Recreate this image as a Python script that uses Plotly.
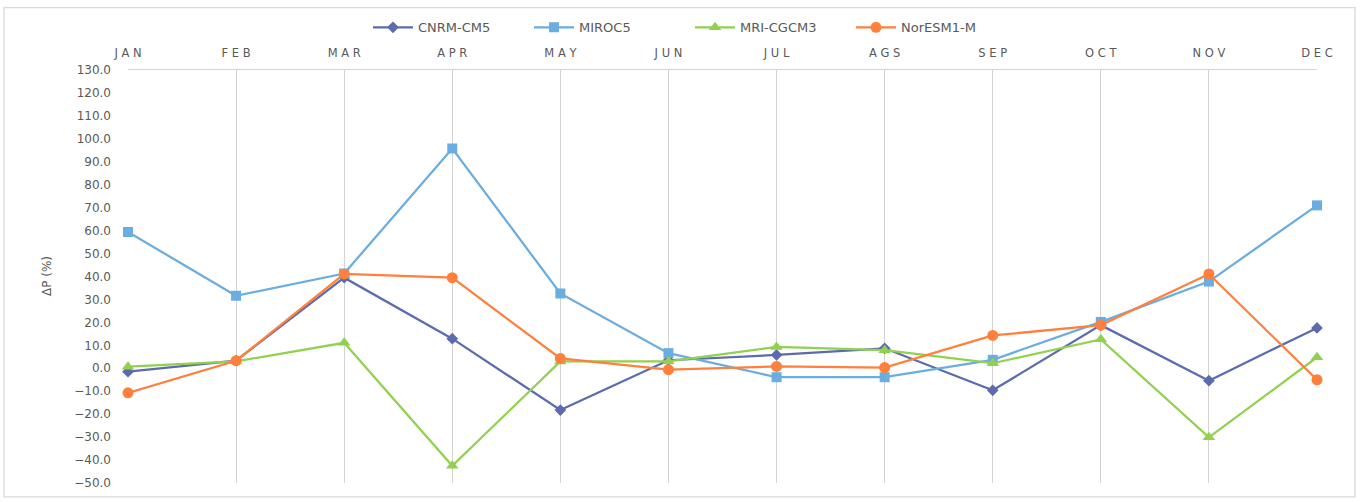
import plotly.graph_objects as go

months = ["JAN", "FEB", "MAR", "APR", "MAY", "JUN", "JUL", "AGS", "SEP", "OCT", "NOV", "DEC"]
cnrm = [-1.5, 3.3, 39.5, 12.9, -18.2, 3.5, 5.8, 8.7, -9.6, 18.8, -5.4, 17.6]
miroc = [59.4, 31.6, 41.3, 95.8, 32.6, 6.6, -3.9, -3.9, 3.7, 20.2, 37.8, 71.0]
mri = [0.7, 3.0, 11.1, -42.5, 3.0, 3.0, 9.3, 7.9, 2.2, 12.6, -30.1, 4.8]
noresm = [-10.7, 3.3, 41.1, 39.5, 4.3, -0.6, 0.8, 0.3, 14.3, 18.8, 41.1, -5.0]

series = [
    ("CNRM-CM5", cnrm, "#5B6BAD", "diamond", 9),
    ("MIROC5", miroc, "#6AADE0", "square", 10),
    ("MRI-CGCM3", mri, "#92D050", "triangle-up", 11),
    ("NorESM1-M", noresm, "#FF7F3C", "circle", 11),
]

FONT = "DejaVu Sans, sans-serif"
GRAY = "#595959"

fig = go.Figure()
for name, vals, color, sym, sz in series:
    fig.add_trace(go.Scatter(
        x=months, y=vals, name=name, mode="lines+markers",
        line=dict(color=color, width=2.25),
        marker=dict(symbol=sym, size=sz, color=color),
        cliponaxis=False,
    ))

ticktext = [" ".join(list(m)) for m in months]

W, H = 1360, 502
L, R, T, B = 128, 43, 68, 17
pw, ph = W - L - R, H - T - B

def px(xp):
    return (xp - L) / pw

def py(yp):
    return (H - B - yp) / ph

fig.update_layout(
    width=W, height=H,
    margin=dict(l=L, r=R, t=T, b=B),
    paper_bgcolor="white", plot_bgcolor="white",
    font=dict(family=FONT, color=GRAY, size=12),
    showlegend=True,
    legend=dict(orientation="h", x=px(368), xanchor="left", y=py(25), yanchor="middle",
                font=dict(size=13, color=GRAY), itemwidth=40, traceorder="normal",
                entrywidth=106, entrywidthmode="pixels"),
    xaxis=dict(
        type="category", categoryorder="array", categoryarray=months,
        range=[0, 11], side="top",
        tickmode="array", tickvals=months, ticktext=ticktext,
        showgrid=True, gridcolor="#D3D3D3", gridwidth=1.3,
        showline=True, linecolor="#D3D3D3", linewidth=1.3,
        ticks="", tickfont=dict(size=11.5, color=GRAY), ticklabelstandoff=7,
        zeroline=False, fixedrange=True,
    ),
    yaxis=dict(
        range=[-50, 130], dtick=10, tick0=-50, tickformat=".1f",
        showgrid=False, zeroline=False, showline=False, ticks="",
        tickfont=dict(size=12, color=GRAY), ticklabelstandoff=16,
    ),
    shapes=[dict(type="rect", xref="paper", yref="paper",
                 x0=px(4), x1=px(1355), y0=py(499), y1=py(5),
                 line=dict(color="#D9D9D9", width=1.3), fillcolor="rgba(0,0,0,0)", layer="below")],
    annotations=[dict(text="\u0394P (%)", xref="paper", yref="paper",
                      x=px(47), y=py(276), textangle=-90, showarrow=False,
                      font=dict(size=12, color=GRAY), xanchor="center", yanchor="middle")],
)

fig.write_html("out.html")
